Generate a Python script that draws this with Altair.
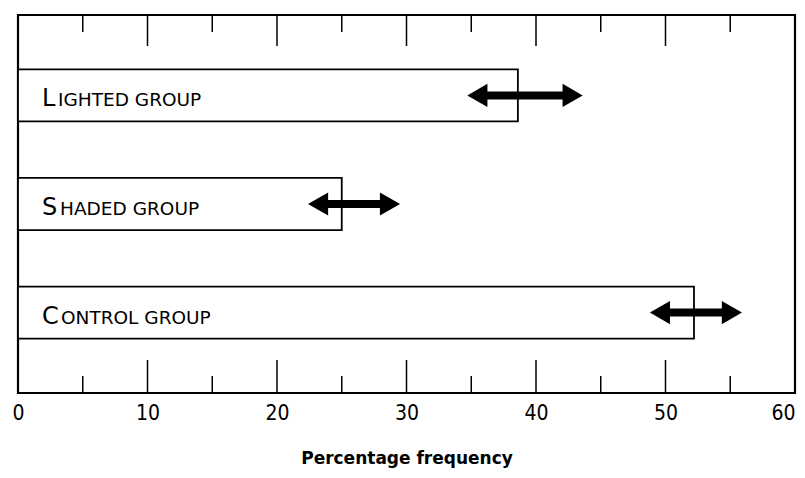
import altair as alt
import pandas as pd

groups = ["Lighted group", "Shaded group", "Control group"]
values = [38.6, 25.0, 52.2]
arrow_lo = [34.7, 22.4, 48.8]
arrow_hi = [43.6, 29.5, 55.9]
major_ticks = [10, 20, 30, 40, 50]
minor_ticks = [5, 15, 25, 35, 45, 55]
axis_values = [0, 10, 20, 30, 40, 50, 60]

W, H = 777, 378

df = pd.DataFrame({"group": groups, "value": values, "lo": arrow_lo, "hi": arrow_hi})
df["first"] = [g[0].upper() for g in groups]
df["rest"] = [g[1:].upper() for g in groups]
majors = pd.DataFrame({"t": major_ticks})
minors = pd.DataFrame({"t": minor_ticks})

xscale = alt.Scale(domain=[0, 60], nice=False, zero=True)
yscale = alt.Scale(domain=groups, paddingInner=0.52, paddingOuter=0.5)

xaxis = alt.Axis(
    values=axis_values, ticks=False, domain=False, grid=False,
    labelFont="Liberation Sans Narrow, DejaVu Sans Condensed, Liberation Sans",
    labelFontSize=21, labelColor="black", labelPadding=9,
    labelAlign=alt.expr("datum.value == 60 ? 'right' : 'center'"),
    title="Percentage frequency", titleFont="DejaVu Sans", titleFontWeight="bold",
    titleFontSize=17, titleColor="black", titlePadding=27,
)

base = alt.Chart(df)

bars = base.mark_bar(fill="white", stroke="black", strokeWidth=1.8).encode(
    x=alt.X("value:Q", scale=xscale, axis=xaxis),
    y=alt.Y("group:N", scale=yscale, axis=None, sort=groups),
)

shaft = base.transform_calculate(
    sl="datum.lo + 0.8", sh="datum.hi - 0.8"
).mark_rule(color="black", strokeWidth=8).encode(
    x=alt.X("sl:Q", scale=xscale),
    x2="sh:Q",
    y=alt.Y("group:N", scale=yscale, sort=groups),
)

head_l = base.mark_point(shape="triangle-left", filled=True, size=540, color="black",
                         opacity=1, xOffset=10).encode(
    x=alt.X("lo:Q", scale=xscale),
    y=alt.Y("group:N", scale=yscale, sort=groups),
)
head_r = base.mark_point(shape="triangle-right", filled=True, size=540, color="black",
                         opacity=1, xOffset=-10).encode(
    x=alt.X("hi:Q", scale=xscale),
    y=alt.Y("group:N", scale=yscale, sort=groups),
)

first_txt = base.mark_text(align="left", baseline="alphabetic", dx=24, dy=11,
                           font="DejaVu Sans", fontSize=24, color="black").encode(
    x=alt.value(0),
    y=alt.Y("group:N", scale=yscale, sort=groups),
    text="first:N",
)

letter_w = {"L": 16, "S": 18, "C": 19}
rest_layers = []
for g, f in zip(groups, df["first"]):
    rest_layers.append(
        base.transform_filter(alt.datum.group == g).mark_text(
            align="left", baseline="alphabetic", dx=24 + letter_w[f], dy=11,
            font="DejaVu Sans", fontSize=18.5, color="black").encode(
            x=alt.value(0),
            y=alt.Y("group:N", scale=yscale, sort=groups),
            text="rest:N",
        )
    )

top_major = alt.Chart(majors).mark_rule(color="black", strokeWidth=1.5).encode(
    x=alt.X("t:Q", scale=xscale), y=alt.value(0), y2=alt.value(31))
top_minor = alt.Chart(minors).mark_rule(color="black", strokeWidth=1.5).encode(
    x=alt.X("t:Q", scale=xscale), y=alt.value(0), y2=alt.value(17))
bot_major = alt.Chart(majors).mark_rule(color="black", strokeWidth=1.5).encode(
    x=alt.X("t:Q", scale=xscale), y=alt.value(H - 33), y2=alt.value(H))
bot_minor = alt.Chart(minors).mark_rule(color="black", strokeWidth=1.5).encode(
    x=alt.X("t:Q", scale=xscale), y=alt.value(H - 17), y2=alt.value(H))

chart = alt.layer(
    top_major, top_minor, bot_major, bot_minor,
    bars, shaft, head_l, head_r, first_txt, *rest_layers
).properties(
    width=W, height=H,
    autosize=alt.AutoSizeParams(type="none"),
    padding={"left": 10, "top": 7, "right": 2, "bottom": 77},
    background="white",
).configure_view(stroke="black", strokeWidth=2.2)

chart.save("out.html", embed_options={"renderer": "svg", "actions": False})
